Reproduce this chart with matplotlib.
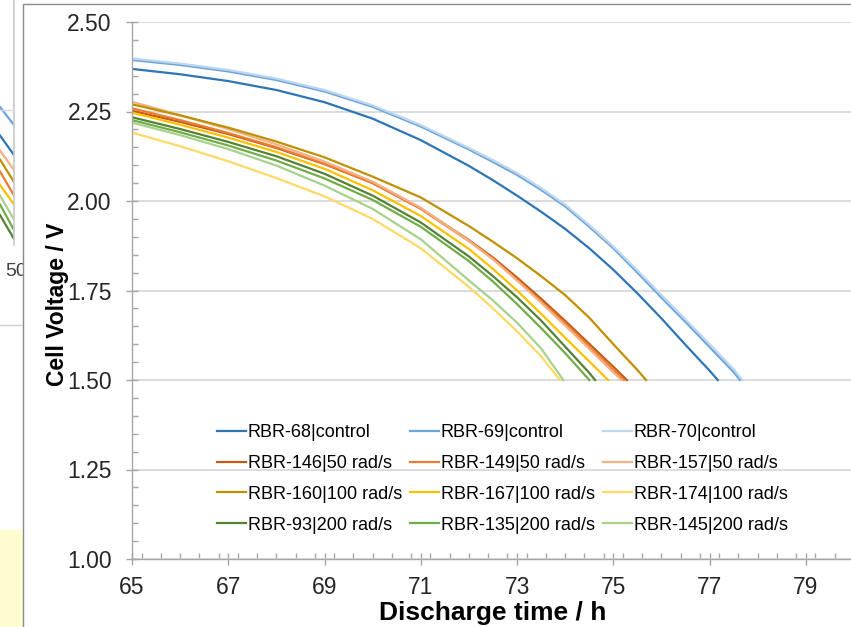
import matplotlib.pyplot as plt
from matplotlib.patches import Rectangle
from matplotlib.ticker import MultipleLocator, FixedLocator

plt.rcParams['font.family'] = ['Liberation Sans', 'DejaVu Sans']

# time grid (h) shared by all series; each series stops at its own end time
t_grid = [65, 66, 67, 68, 69, 70, 71, 72, 72.5, 73, 73.5, 74, 74.5, 75, 75.5, 76, 76.5, 77, 77.5]

labels = ['RBR-68|control', 'RBR-69|control', 'RBR-70|control',
          'RBR-146|50 rad/s', 'RBR-149|50 rad/s', 'RBR-157|50 rad/s',
          'RBR-160|100 rad/s', 'RBR-167|100 rad/s', 'RBR-174|100 rad/s',
          'RBR-93|200 rad/s', 'RBR-135|200 rad/s', 'RBR-145|200 rad/s']

colors = ['#2E75B6', '#6BA3DB', '#BDD7EE',
          '#C55A11', '#ED7D31', '#F4B183',
          '#BF9000', '#FFC000', '#FFD966',
          '#548235', '#70AD47', '#A9D18E']

v68 = [2.369, 2.354, 2.335, 2.310, 2.276, 2.230, 2.170, 2.098, 2.058, 2.015, 1.970, 1.922, 1.868, 1.808, 1.742, 1.672, 1.598, 1.526]
v69 = [2.394, 2.380, 2.362, 2.338, 2.306, 2.263, 2.208, 2.144, 2.109, 2.073, 2.031, 1.985, 1.928, 1.868, 1.800, 1.730, 1.662, 1.592, 1.522]
v70 = [2.398, 2.384, 2.366, 2.342, 2.310, 2.267, 2.212, 2.148, 2.114, 2.078, 2.036, 1.990, 1.933, 1.873, 1.806, 1.737, 1.669, 1.600, 1.530]
v146 = [2.252, 2.221, 2.187, 2.148, 2.103, 2.050, 1.979, 1.891, 1.842, 1.786, 1.727, 1.665, 1.601, 1.537]
v149 = [2.259, 2.226, 2.190, 2.150, 2.104, 2.050, 1.978, 1.888, 1.838, 1.780, 1.720, 1.658, 1.593, 1.528]
v157 = [2.277, 2.240, 2.201, 2.158, 2.110, 2.054, 1.981, 1.889, 1.837, 1.778, 1.716, 1.652, 1.587, 1.521]
v160 = [2.270, 2.239, 2.205, 2.166, 2.122, 2.068, 2.010, 1.930, 1.886, 1.840, 1.790, 1.737, 1.674, 1.600, 1.528]
v167 = [2.247, 2.213, 2.177, 2.137, 2.090, 2.030, 1.958, 1.866, 1.810, 1.750, 1.685, 1.618, 1.552]
v174 = [2.191, 2.153, 2.111, 2.064, 2.013, 1.950, 1.868, 1.760, 1.700, 1.636, 1.566]
v93 = [2.234, 2.201, 2.165, 2.125, 2.076, 2.015, 1.940, 1.845, 1.790, 1.731, 1.666, 1.593, 1.520]
v135 = [2.226, 2.192, 2.155, 2.113, 2.063, 2.003, 1.928, 1.832, 1.775, 1.712, 1.645, 1.575]
v145 = [2.219, 2.184, 2.145, 2.099, 2.043, 1.978, 1.893, 1.778, 1.722, 1.660, 1.588]

volts = [v68, v69, v70, v146, v149, v157, v160, v167, v174, v93, v135, v145]
# time at which each cell reached the 1.50 V cut-off
end_t = [77.17, 77.63, 77.68, 75.28, 75.22, 75.17, 75.68, 74.89, 73.89, 74.62, 74.50, 73.96]
cutoff = 1.50

# fragment of the slide behind (left edge): start/end heights of its curves
bg_start = [0.92, 0.73, 0.63, 0.57, 0.49, 0.40, 0.33, 0.27, 0.20]
bg_end = [0.80, 0.60, 0.50, 0.42, 0.33, 0.27, 0.17, 0.10, 0.04]
bg_colors = ['#6BA3DB', '#2E75B6', '#F4B183', '#BF9000', '#ED7D31', '#FFC000', '#A9D18E', '#70AD47', '#548235']

W, H = 851, 627
fig = plt.figure(figsize=(W / 100, H / 100), dpi=100)

# background slide bits
bg = fig.add_axes([0, 1 - 245 / H, 14 / W, 150 / H], zorder=-3)
bg.set_xlim(0, 1)
bg.set_ylim(0, 1)
bg.axis('off')
for s, e, c in zip(bg_start, bg_end, bg_colors):
    bg.plot([0, 1], [s, e], color=c, lw=1.6)
fig.add_artist(plt.Line2D([14 / W, 14 / W], [1 - 245 / H, 1], color='#C8C8C8', lw=1.2, zorder=-2.5))
fig.add_artist(plt.Line2D([0, 14 / W], [1 - 110 / H, 1 - 110 / H], color='#D9D9D9', lw=1.0, zorder=-2.5))
fig.add_artist(plt.Line2D([0, 23 / W], [1 - 325 / H, 1 - 325 / H], color='#D0D0D0', lw=1.0, zorder=-2.5))
fig.text(5 / W, 1 - 272 / H, '50', fontsize=14, color='#404040', va='center', zorder=-2.5)
fig.add_artist(Rectangle((0, 0), 23 / W, 97 / H, transform=fig.transFigure,
                         facecolor='#FFFCCF', edgecolor='none', zorder=-2.5))
# chart panel on top
fig.add_artist(Rectangle((23 / W, -0.01), 1, 1 - 4 / H + 0.01, transform=fig.transFigure,
                         facecolor='white', edgecolor='#8C8C8C', lw=1.0, zorder=-2))

ax = fig.add_axes([132 / W, 1 - 559 / H, (854 - 132) / W, (559 - 22) / H])
ax.set_facecolor('none')

for lab, c, v, te in zip(labels, colors, volts, end_t):
    tt = t_grid[:len(v)] + [te]
    ax.plot(tt, v + [cutoff], color=c, lw=1.6, label=lab)

ax.set_xlim(65, 80)
ax.set_ylim(1.0, 2.5)
ax.xaxis.set_major_locator(FixedLocator([65, 67, 69, 71, 73, 75, 77, 79]))
ax.xaxis.set_minor_locator(MultipleLocator(0.4))
ax.yaxis.set_major_locator(MultipleLocator(0.25))
ax.yaxis.set_minor_locator(MultipleLocator(0.05))
ax.yaxis.set_major_formatter(plt.FormatStrFormatter('%.2f'))
ax.grid(axis='y', which='major', color='#D9D9D9', lw=1.3)
ax.set_axisbelow(True)

for sp in ['top', 'right']:
    ax.spines[sp].set_visible(False)
for sp in ['left', 'bottom']:
    ax.spines[sp].set_color('#A6A6A6')
    ax.spines[sp].set_linewidth(1.0)
ax.tick_params(which='major', direction='inout', length=9, width=1.0, color='#A6A6A6',
               labelsize=16.5, labelcolor='#262626')
ax.tick_params(axis='x', which='major', pad=8)
ax.tick_params(axis='y', which='major', pad=10)
ax.tick_params(which='minor', direction='in', length=4, width=1.0, color='#A6A6A6')

ax.set_xlabel('Discharge time / h', fontsize=19, fontweight='bold', labelpad=1)
ax.set_ylabel('Cell Voltage / V', fontsize=16.5, fontweight='bold')
ax.yaxis.set_label_coords(-0.087, 0.474)

# legend reads row by row in the original, matplotlib fills columns first
h, l = ax.get_legend_handles_labels()
order = [0, 3, 6, 9, 1, 4, 7, 10, 2, 5, 8, 11]
ax.legend([h[i] for i in order], [l[i] for i in order], ncol=3, frameon=False,
          loc='upper left', bbox_to_anchor=(217 / W, 1 - 424 / H), bbox_transform=fig.transFigure,
          fontsize=13, handlelength=1.6, handletextpad=0.1, columnspacing=0.45,
          labelspacing=0.77, borderpad=0, borderaxespad=0)

fig.savefig('out.png', dpi=100)
